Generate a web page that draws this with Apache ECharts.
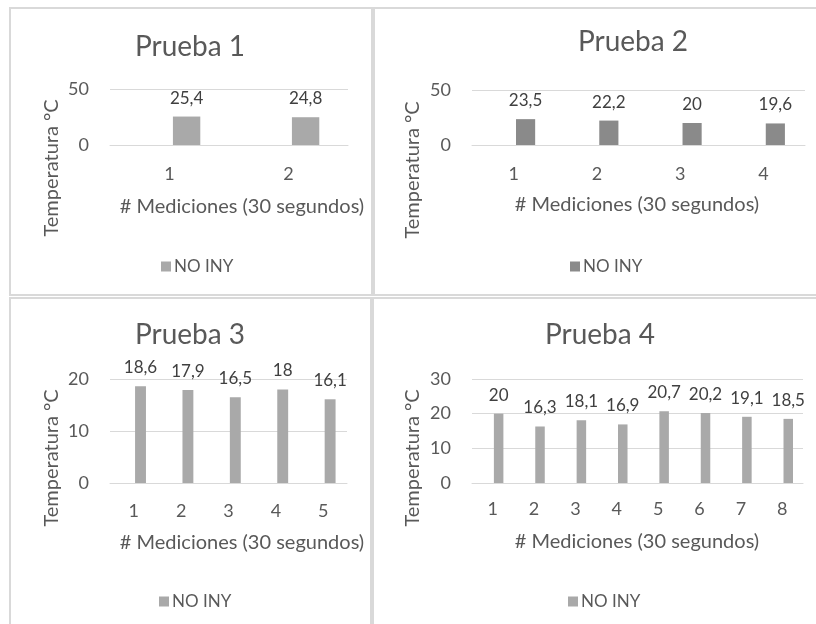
<!DOCTYPE html>
<html>
<head>
<meta charset="utf-8">
<script src="https://cdn.jsdelivr.net/npm/echarts@6/dist/echarts.min.js"></script>
<style>
  html, body { margin: 0; padding: 0; background: #ffffff; }
  #chart { width: 816px; height: 624px; }
</style>
</head>
<body>
<div id="chart"></div>
<script>
// Four temperature tests, one small bar chart per panel
const panelTitles = ['Prueba 1', 'Prueba 2', 'Prueba 3', 'Prueba 4'];
const xAxisTitle = '# Mediciones (30 segundos)';
const yAxisTitle = 'Temperatura °C';
const seriesName = 'NO INY';
const companionName = 'INY';

const categories1 = ['1', '2'];
const categories2 = ['1', '2', '3', '4'];
const categories3 = ['1', '2', '3', '4', '5'];
const categories4 = ['1', '2', '3', '4', '5', '6', '7', '8'];

const noIny1 = [25.4, 24.8];
const noIny2 = [23.5, 22.2, 20, 19.6];
const noIny3 = [18.6, 17.9, 16.5, 18, 16.1];
const noIny4 = [20, 16.3, 18.1, 16.9, 20.7, 20.2, 19.1, 18.5];

// companion series has no readings; it only reserves its slot in each category
const iny1 = [];
const iny2 = [];
const iny3 = [];
const iny4 = [];

const yMax = [50, 50, 20, 30];
const yStep = [50, 50, 10, 10];

const FONT = 'Lato';
const TEXT = '#595959';
const LABEL = '#404040';
const GRID_LINE = '#d9d9d9';
const barColors = ['#a9a9a9', '#8a8a8a', '#a9a9a9', '#a9a9a9'];

const categories = [categories1, categories2, categories3, categories4];
const values = [noIny1, noIny2, noIny3, noIny4];
const companions = [iny1, iny2, iny3, iny4];

// panel layout (pixels)
const grids = [
  { left: 110, top: 89, width: 238, height: 56 },
  { left: 472, top: 90, width: 333, height: 55 },
  { left: 110, top: 379, width: 237, height: 104 },
  { left: 472, top: 379, width: 331, height: 104 }
];
const frames = [
  { x: 10, y: 8, width: 362, height: 287 },
  { x: 374, y: 8, width: 460, height: 287 },
  { x: 10, y: 298, width: 361, height: 350 },
  { x: 373, y: 298, width: 460, height: 350 }
];
const titlePos = [[190, 47], [633, 42], [190, 335], [600, 335]];
const xNamePos = [[242, 207], [637, 205], [242, 543], [637, 542]];
const yNamePos = [[52, 168], [413, 170], [52, 458], [413, 458]];
const legendPos = [[156, 253], [565, 253], [154, 588], [563, 588]];
const xLabelMargin = [20, 20, 19, 17];

const commaDecimal = v => String(v).replace('.', ',');

const option = {
  animation: false,
  backgroundColor: '#ffffff',
  grid: grids.map(g => Object.assign({ containLabel: false }, g)),
  xAxis: categories.map((cats, i) => ({
    type: 'category',
    gridIndex: i,
    data: cats,
    axisLine: { show: true, lineStyle: { color: GRID_LINE, width: 1 } },
    axisTick: { show: false },
    axisLabel: { color: TEXT, fontFamily: FONT, fontSize: 18, margin: xLabelMargin[i] },
    splitLine: { show: false }
  })),
  yAxis: yMax.map((m, i) => ({
    type: 'value',
    gridIndex: i,
    min: 0,
    max: m,
    interval: yStep[i],
    axisLine: { show: false },
    axisTick: { show: false },
    axisLabel: { color: TEXT, fontFamily: FONT, fontSize: 18, margin: 21 },
    splitLine: { show: true, lineStyle: { color: GRID_LINE, width: 1 } }
  })),
  legend: legendPos.map((p, i) => ({
    left: p[0],
    top: p[1],
    icon: 'rect',
    itemWidth: 10,
    itemHeight: 10,
    itemGap: 10,
    selectedMode: false,
    textStyle: { color: TEXT, fontFamily: FONT, fontSize: 17, padding: [0, 0, 0, -2] },
    data: [{ name: seriesName, itemStyle: { color: barColors[i] } }]
  })),
  series: [],
  graphic: []
};

values.forEach((vals, i) => {
  option.series.push({
    type: 'bar',
    name: companionName,
    xAxisIndex: i,
    yAxisIndex: i,
    data: companions[i],
    barWidth: '23%',
    barGap: '25%'
  });
  option.series.push({
    type: 'bar',
    name: seriesName,
    xAxisIndex: i,
    yAxisIndex: i,
    data: vals,
    barWidth: '23%',
    barGap: '25%',
    itemStyle: { color: barColors[i] },
    label: {
      show: true,
      position: 'top',
      distance: 10,
      color: LABEL,
      fontFamily: FONT,
      fontSize: 17,
      formatter: p => commaDecimal(p.value)
    }
  });
});

frames.forEach(f => {
  option.graphic.push({
    type: 'rect',
    silent: true,
    shape: { x: f.x, y: f.y, width: f.width, height: f.height },
    style: { fill: null, stroke: '#d9d9d9', lineWidth: 2 }
  });
});

panelTitles.forEach((t, i) => {
  option.graphic.push({
    type: 'text',
    x: titlePos[i][0],
    y: titlePos[i][1],
    style: { text: t, fill: TEXT, font: '28px ' + FONT, align: 'center', verticalAlign: 'middle' }
  });
  option.graphic.push({
    type: 'text',
    x: xNamePos[i][0],
    y: xNamePos[i][1],
    style: { text: xAxisTitle, fill: TEXT, font: '20px ' + FONT, align: 'center', verticalAlign: 'middle' }
  });
  option.graphic.push({
    type: 'text',
    x: yNamePos[i][0],
    y: yNamePos[i][1],
    rotation: Math.PI / 2,
    style: { text: yAxisTitle, fill: TEXT, font: '20px ' + FONT, align: 'center', verticalAlign: 'middle' }
  });
});

const chart = echarts.init(document.getElementById('chart'), null, { renderer: 'canvas' });
chart.setOption(option);
</script>
</body>
</html>
